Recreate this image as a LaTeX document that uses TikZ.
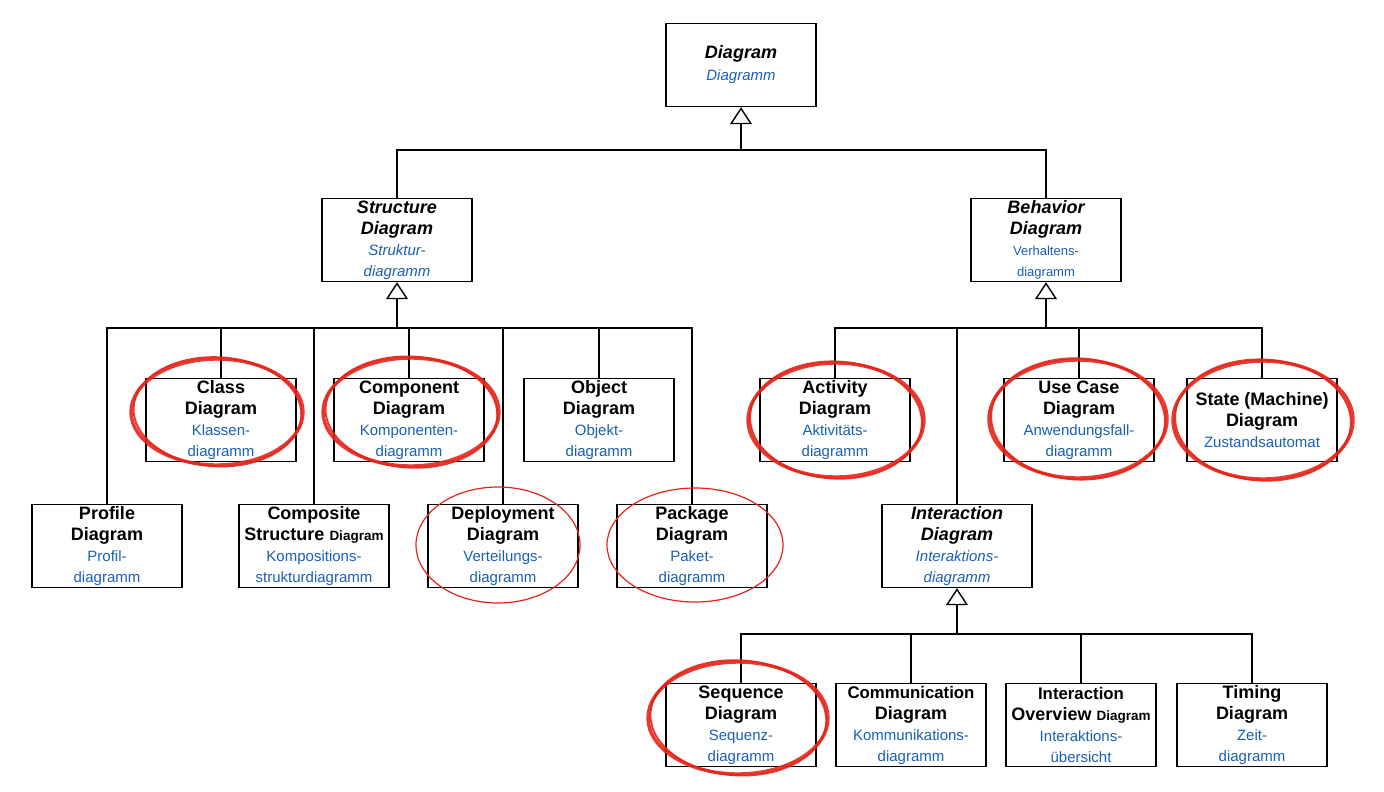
\documentclass[tikz,border=0pt]{standalone}
\usepackage{fontspec}
\setmainfont{Liberation Sans}
\usetikzlibrary{arrows.meta}
\definecolor{deblue}{RGB}{25,95,180}
\definecolor{markred}{RGB}{228,35,25}
\newcommand{\de}[1]{{\color{deblue}\fontsize{15}{19}\selectfont\mdseries #1}}
\newcommand{\dei}[1]{{\color{deblue}\fontsize{15}{19}\selectfont\mdseries\itshape #1}}
\newcommand{\des}[1]{{\color{deblue}\fontsize{13}{16}\selectfont\mdseries #1}}
\newcommand{\sm}[1]{{\fontsize{13.5}{18}\selectfont\bfseries #1}}
\newcommand{\md}[1]{{\fontsize{16.8}{20}\selectfont\bfseries #1}}
\begin{document}
\begin{tikzpicture}[x=1pt,y=-1pt,
  box/.style={draw, line width=1.4pt, minimum width=150pt, minimum height=83pt,
    align=center, inner sep=0pt, font=\fontsize{18}{21}\selectfont\bfseries},
  conn/.style={line width=1.4pt},
  inh/.style={line width=1.4pt, -{Triangle[open,width=22pt,length=17pt,line width=1.4pt]}},
  hl/.style={draw=markred, line width=3.4pt, opacity=0.9},
  hlthin/.style={draw=markred, line width=1.2pt}
]
\useasboundingbox (0,0) rectangle (1384,792);

% nodes
\node[box] (diagram) at (741,65) {\itshape Diagram\\[1pt]\dei{Diagramm}};
\node[box] (structure) at (397,240) {\itshape Structure\\\itshape Diagram\\\dei{Struktur-}\\\dei{diagramm}};
\node[box] (behavior) at (1046,240) {\itshape Behavior\\\itshape Diagram\\\des{Verhaltens-}\\\des{diagramm}};

\node[box] (class) at (221,420) {Class\\Diagram\\\de{Klassen-}\\\de{diagramm}};
\node[box] (component) at (409,420) {Component\\Diagram\\\de{Komponenten-}\\\de{diagramm}};
\node[box] (object) at (599,420) {Object\\Diagram\\\de{Objekt-}\\\de{diagramm}};
\node[box] (activity) at (835,420) {Activity\\Diagram\\\de{Aktivitäts-}\\\de{diagramm}};
\node[box] (usecase) at (1079,420) {Use Case\\Diagram\\\de{Anwendungsfall-}\\\de{diagramm}};
\node[box] (state) at (1262,420) {State (Machine)\\Diagram\\\de{Zustandsautomat}};

\node[box] (profile) at (107,546) {Profile\\Diagram\\\de{Profil-}\\\de{diagramm}};
\node[box] (composite) at (314,546) {Composite\\Structure \sm{Diagram}\\\de{Kompositions-}\\\de{strukturdiagramm}};
\node[box] (deployment) at (503,546) {Deployment\\Diagram\\\de{Verteilungs-}\\\de{diagramm}};
\node[box] (package) at (692,546) {Package\\Diagram\\\de{Paket-}\\\de{diagramm}};
\node[box] (interaction) at (957,546) {\itshape Interaction\\\itshape Diagram\\\dei{Interaktions-}\\\dei{diagramm}};

\node[box] (sequence) at (741,725) {Sequence\\Diagram\\\de{Sequenz-}\\\de{diagramm}};
\node[box] (communication) at (911,725) {\md{Communication}\\Diagram\\\de{Kommunikations-}\\\de{diagramm}};
\node[box] (overview) at (1081,725) {\md{Interaction}\\Overview \sm{Diagram}\\\de{Interaktions-}\\\de{übersicht}};
\node[box] (timing) at (1252,725) {Timing\\Diagram\\\de{Zeit-}\\\de{diagramm}};

% bus coordinates
\coordinate (bus0) at (741,150);
\coordinate (bus1) at (397,328);
\coordinate (bus2) at (1046,328);
\coordinate (bus3) at (957,634);

% top level
\draw[inh] (bus0) -- (diagram.south);
\draw[conn] (structure.north) -- (structure.north |- bus0) -- (behavior.north |- bus0) -- (behavior.north);

% structure
\draw[inh] (bus1) -- (structure.south);
\draw[conn] (profile.north) -- (profile.north |- bus1) -- (package.north |- bus1) -- (package.north);
\foreach \n in {class,composite,component,deployment,object}
  \draw[conn] (\n.north) -- (\n.north |- bus1);

% behavior
\draw[inh] (bus2) -- (behavior.south);
\draw[conn] (activity.north) -- (activity.north |- bus2) -- (state.north |- bus2) -- (state.north);
\foreach \n in {interaction,usecase}
  \draw[conn] (\n.north) -- (\n.north |- bus2);

% interaction
\draw[inh] (bus3) -- (interaction.south);
\draw[conn] (sequence.north) -- (sequence.north |- bus3) -- (timing.north |- bus3) -- (timing.north);
\foreach \n in {communication,overview}
  \draw[conn] (\n.north) -- (\n.north |- bus3);

% red highlight ellipses
\foreach \n/\dx/\dy/\rx/\ry in {class/-4/-8/86/53, component/2/-8/88/54, activity/1/0/88/57, usecase/-1/-1/89/59, state/1/0/90/59, sequence/-3/-7/90/56}{
  \draw[hl] ([shift={(\dx,\dy)}]\n.center) ellipse [x radius=\rx, y radius=\ry];
  \draw[hl, line width=2pt, rotate around={-3:([shift={(\dx,\dy)}]\n.center)}] ([shift={(\dx,\dy)}]\n.center) ellipse [x radius=\rx-2, y radius=\ry+1.5];
}
\draw[hlthin] ([shift={(-5,-1)}]deployment.center) ellipse [x radius=82, y radius=58];
\draw[hlthin] ([shift={(3,-1)}]package.center) ellipse [x radius=88, y radius=57];
\end{tikzpicture}
\end{document}
